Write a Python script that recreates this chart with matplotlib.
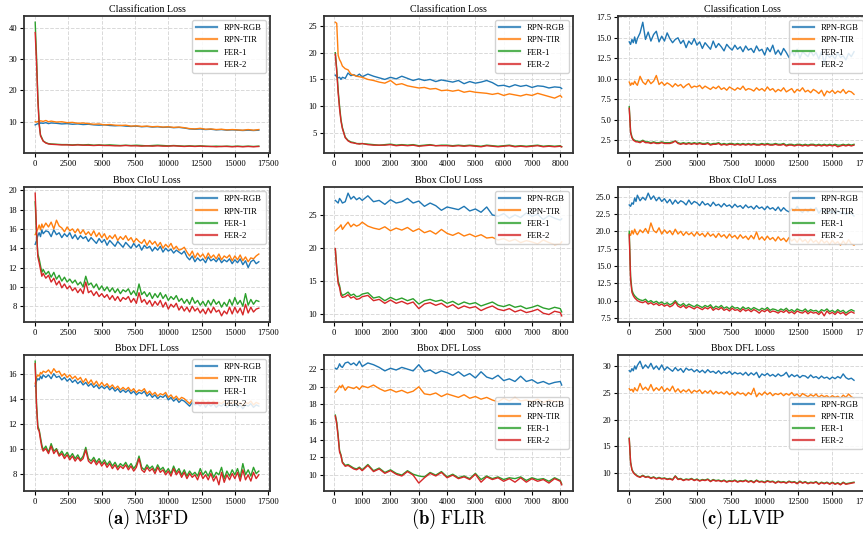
import matplotlib
matplotlib.use("Agg")
import matplotlib.pyplot as plt
from matplotlib.ticker import MultipleLocator

plt.rcParams['font.family'] = ['Liberation Serif', 'DejaVu Serif']
plt.rcParams['mathtext.fontset'] = 'cm'

series_names = ['RPN-RGB', 'RPN-TIR', 'FER-1', 'FER-2']
series_colors = ['tab:blue', 'tab:orange', 'tab:green', 'tab:red']
loss_titles = ['Classification Loss', 'Bbox CIoU Loss', 'Bbox DFL Loss']
dataset_labels = [r'$\mathbf{(a)}$ $\mathrm{M3FD}$', r'$\mathbf{(b)}$ $\mathrm{FLIR}$',
                  r'$\mathbf{(c)}$ $\mathrm{LLVIP}$']

# training steps (coarse and fine sampling)
m3fd_steps = [0, 100, 200, 300, 400, 600, 800, 1000] + list(range(1200, 16801, 400))
m3fd_steps_fine = [0, 100, 200, 300, 400, 500, 600, 800] + list(range(1000, 16801, 200))
flir_steps = [50, 100, 150, 200, 250, 300, 400, 500, 600, 700, 800, 900] + list(range(1000, 8001, 200)) + [8050]
llvip_steps = [0, 100, 200, 300, 400, 500, 600, 800] + list(range(1000, 16601, 200))

# ---- M3FD ----
m3fd_cls_rgb = [9.0, 9.2, 9.4, 9.3, 9.6, 9.5, 9.7, 9.4, 9.6, 9.5, 9.3, 9.4, 9.2, 9.3, 9.1, 9.2, 9.0, 8.9, 9.0, 8.8,
                8.7, 8.8, 8.6, 8.5, 8.6, 8.4, 8.5, 8.3, 8.4, 8.2, 8.3, 8.1, 8.2, 8.0, 7.7, 7.6, 7.7, 7.5, 7.6, 7.4,
                7.5, 7.3, 7.4, 7.3, 7.2, 7.3, 7.2, 7.3]
m3fd_cls_tir = [10.0, 9.9, 10.1, 10.0, 10.3, 10.1, 10.4, 10.0, 10.2, 9.9, 10.0, 9.7, 9.8, 9.5, 9.6, 9.4, 9.2, 9.3,
                9.0, 9.1, 8.9, 8.8, 8.9, 8.6, 8.7, 8.5, 8.6, 8.4, 8.5, 8.3, 8.4, 8.2, 8.3, 8.1, 7.8, 7.7, 7.9, 7.6,
                7.7, 7.5, 7.6, 7.4, 7.5, 7.4, 7.3, 7.5, 7.3, 7.5]
m3fd_cls_fer1 = [41.8, 31.0, 18.0, 9.5, 5.8, 3.9, 3.3, 3.0, 2.9, 2.8, 2.7, 2.7, 2.6, 2.7, 2.6, 2.7, 2.5, 2.6, 2.5,
                 2.6, 2.5, 2.4, 2.5, 2.4, 2.5, 2.4, 2.3, 2.4, 2.5, 2.4, 2.3, 2.4, 2.3, 2.2, 2.3, 2.2, 2.3, 2.2, 2.1,
                 2.2, 2.1, 2.2, 2.1, 2.2, 2.1, 2.2, 2.1, 2.2]
m3fd_cls_fer2 = [38.5, 29.0, 17.0, 9.0, 5.5, 3.8, 3.2, 2.9, 2.8, 2.7, 2.6, 2.6, 2.5, 2.6, 2.5, 2.5, 2.4, 2.5, 2.4,
                 2.4, 2.3, 2.3, 2.4, 2.3, 2.3, 2.2, 2.3, 2.2, 2.3, 2.2, 2.2, 2.3, 2.2, 2.1, 2.2, 2.1, 2.2, 2.1, 2.1,
                 2.0, 2.1, 2.1, 2.0, 2.1, 2.0, 2.1, 2.0, 2.1]

m3fd_ciou_rgb = [14.4, 14.8, 15.3, 15.6, 15.2, 15.9, 15.5, 15.8,
                 15.7, 15.2, 15.9, 15.4, 15.6, 15.1, 15.5, 15.2, 15.6, 15.0,
                 15.4, 14.9, 15.3, 15.0, 15.2, 14.7, 15.1, 14.8, 14.5, 15.0,
                 14.6, 14.9, 14.3, 14.8, 14.5, 14.2, 14.7, 14.4, 14.1, 14.6,
                 14.3, 14.0, 14.5, 14.1, 14.4, 13.8, 14.3, 14.0, 14.2, 13.7,
                 14.1, 13.8, 14.2, 13.6, 14.0, 13.7, 13.9, 13.5, 13.8, 13.6,
                 13.4, 13.7, 13.1, 12.8, 13.2, 12.6, 13.0, 12.7, 12.9, 12.5,
                 13.1, 12.7, 12.9, 12.6, 13.0, 12.5, 12.8, 12.6, 12.9, 12.4,
                 12.8, 12.5, 12.9, 12.3, 12.7, 12.0, 12.6, 12.8, 12.4, 12.6]
m3fd_ciou_tir = [15.4, 15.7, 16.0, 16.4, 15.9, 16.5, 16.1, 16.6,
                 16.2, 16.7, 16.0, 16.9, 16.3, 16.1, 15.7, 16.2, 15.8, 16.0,
                 15.6, 16.0, 15.5, 15.9, 15.4, 15.7, 15.3, 15.8, 15.2, 15.6,
                 15.1, 15.5, 14.9, 15.3, 15.0, 15.4, 14.8, 15.2, 14.9, 15.3,
                 14.8, 15.1, 14.6, 15.0, 14.7, 14.5, 14.9, 14.3, 14.8, 14.4,
                 14.7, 14.2, 14.6, 14.0, 14.4, 14.1, 14.5, 13.9, 14.2, 13.8,
                 13.9, 14.1, 13.6, 13.2, 13.7, 13.0, 13.5, 13.1, 13.4, 12.9,
                 13.5, 13.0, 13.3, 12.9, 13.4, 12.8, 13.2, 13.0, 13.3, 12.7,
                 13.2, 12.8, 13.3, 12.7, 13.1, 12.6, 13.0, 12.9, 13.2, 13.4]
m3fd_ciou_fer1 = [18.8, 15.5, 13.4, 12.9, 12.2, 11.5, 11.8, 11.3,
                  11.6, 11.0, 11.5, 10.8, 11.2, 10.6, 11.0, 10.5, 10.8, 10.4,
                  10.7, 10.2, 10.5, 10.0, 11.1, 10.2, 10.4, 9.9, 10.3, 9.7,
                  10.1, 9.6, 10.0, 9.5, 9.9, 9.4, 9.8, 9.3, 9.7, 9.5,
                  9.8, 9.2, 9.6, 9.1, 10.3, 9.2, 9.5, 9.0, 9.4, 8.8,
                  9.3, 8.9, 9.4, 8.8, 9.2, 8.6, 9.0, 8.7, 9.1, 8.5,
                  8.8, 8.3, 8.7, 8.2, 8.9, 8.3, 8.6, 8.1, 8.5, 8.0,
                  8.6, 8.1, 8.7, 8.2, 8.5, 7.9, 8.4, 8.0, 8.7, 8.1,
                  8.9, 8.2, 8.6, 8.0, 9.3, 8.1, 8.7, 8.2, 8.6, 8.5]
m3fd_ciou_fer2 = [19.7, 15.8, 13.1, 12.5, 11.8, 11.1, 11.4, 10.9,
                  11.2, 10.5, 10.9, 10.2, 10.6, 9.9, 10.3, 9.8, 10.1, 9.6,
                  9.9, 9.4, 9.8, 9.3, 10.5, 9.4, 9.6, 9.1, 9.5, 9.0,
                  9.3, 8.9, 9.2, 8.7, 9.1, 8.6, 9.0, 8.5, 8.9, 8.7,
                  9.0, 8.4, 8.8, 8.3, 9.4, 8.4, 8.7, 8.2, 8.6, 8.0,
                  8.5, 8.1, 8.6, 7.9, 8.4, 7.7, 8.2, 7.9, 8.3, 7.6,
                  8.0, 7.5, 7.9, 7.4, 8.0, 7.5, 7.8, 7.3, 7.7, 7.2,
                  7.8, 7.3, 7.9, 7.4, 7.6, 7.0, 7.5, 7.2, 7.9, 7.2,
                  7.9, 7.3, 7.8, 7.1, 8.2, 7.3, 7.9, 7.4, 7.7, 7.8]

m3fd_dfl_rgb = [15.0, 15.4, 15.6, 15.5, 15.8, 15.6, 15.9, 15.7,
                15.9, 15.6, 16.0, 15.7, 15.8, 15.5, 15.7, 15.4, 15.6, 15.3,
                15.5, 15.2, 15.4, 15.1, 15.3, 15.0, 15.2, 14.9, 15.1, 14.8,
                15.0, 14.8, 15.0, 14.7, 14.9, 14.6, 14.8, 14.5, 14.7, 14.5,
                14.7, 14.4, 14.6, 14.3, 14.5, 14.4, 14.6, 14.2, 14.4, 14.1,
                14.3, 14.0, 14.2, 14.1, 14.3, 13.9, 14.1, 13.8, 14.0, 13.7,
                13.9, 13.8, 13.6, 13.4, 13.7, 13.5, 13.6, 13.4, 13.7, 13.3,
                13.6, 13.4, 13.6, 13.3, 13.5, 13.4, 13.6, 13.3, 13.5, 13.4,
                13.6, 13.3, 13.5, 13.2, 13.5, 13.4, 13.6, 13.3, 13.5, 13.4]
m3fd_dfl_tir = [15.2, 15.7, 15.9, 15.8, 16.1, 16.0, 16.2, 16.1,
                16.3, 16.0, 16.4, 16.1, 16.2, 15.8, 16.0, 15.7, 15.9, 15.6,
                15.8, 15.5, 15.7, 15.3, 15.6, 15.2, 15.5, 15.1, 15.4, 15.0,
                15.3, 15.0, 15.2, 14.9, 15.1, 14.8, 15.0, 14.7, 14.9, 14.7,
                14.9, 14.6, 14.8, 14.5, 14.7, 14.6, 14.8, 14.4, 14.6, 14.3,
                14.5, 14.2, 14.4, 14.3, 14.5, 14.1, 14.3, 14.0, 14.2, 13.9,
                14.1, 14.0, 13.8, 13.6, 13.9, 13.7, 13.8, 13.6, 13.9, 13.5,
                13.8, 13.6, 13.8, 13.5, 13.7, 13.6, 13.8, 13.5, 13.7, 13.6,
                13.8, 13.5, 13.7, 13.4, 13.7, 13.6, 13.8, 13.5, 13.7, 13.6]
m3fd_dfl_fer1 = [17.0, 13.6, 11.8, 11.5, 10.9, 10.3, 9.9, 10.2,
                 9.7, 10.4, 9.8, 10.0, 9.5, 9.8, 9.4, 9.7, 9.3, 9.6,
                 9.2, 9.5, 9.1, 9.4, 10.1, 9.2, 9.0, 9.3, 8.9, 9.2,
                 8.8, 9.1, 8.7, 9.0, 8.6, 8.9, 8.5, 8.8, 8.6, 8.9,
                 8.5, 8.8, 8.4, 8.7, 9.4, 8.5, 8.3, 8.7, 8.4, 8.6,
                 8.2, 8.7, 8.3, 8.5, 8.1, 8.4, 8.0, 8.6, 8.1, 8.4,
                 7.9, 8.3, 7.8, 8.2, 7.9, 8.1, 7.8, 8.4, 7.9, 8.2,
                 7.8, 8.3, 7.7, 8.1, 7.9, 8.5, 7.6, 8.2, 7.8, 8.3,
                 7.9, 8.4, 7.7, 8.8, 7.9, 8.3, 7.8, 8.5, 8.0, 8.2]
m3fd_dfl_fer2 = [16.8, 13.4, 11.6, 11.4, 10.7, 10.1, 9.8, 10.0,
                 9.6, 10.2, 9.6, 9.9, 9.4, 9.6, 9.2, 9.5, 9.1, 9.4,
                 9.0, 9.3, 9.0, 9.2, 9.9, 9.0, 8.8, 9.1, 8.7, 9.0,
                 8.6, 8.9, 8.5, 8.8, 8.4, 8.7, 8.3, 8.6, 8.4, 8.7,
                 8.3, 8.6, 8.2, 8.5, 9.2, 8.3, 8.1, 8.5, 8.2, 8.4,
                 8.0, 8.5, 8.1, 8.3, 7.9, 8.2, 7.8, 8.4, 7.9, 8.2,
                 7.7, 8.1, 7.6, 8.0, 7.7, 7.9, 7.5, 8.1, 7.6, 7.9,
                 7.5, 8.0, 7.4, 7.8, 7.1, 8.1, 7.3, 7.9, 7.5, 8.0,
                 7.6, 8.1, 7.4, 8.3, 7.5, 7.9, 7.4, 8.1, 7.6, 7.9]

# ---- FLIR ----
flir_cls_rgb = [15.8, 15.5, 15.3, 15.4, 15.0, 15.4, 15.2, 16.2, 15.7, 15.9, 15.6, 16.0, 15.5, 16.0, 15.6, 15.3,
                15.0, 15.4, 15.1, 15.6, 15.2, 14.8, 15.1, 14.8, 15.0, 14.6, 14.9, 14.7, 14.5, 14.8, 14.2, 14.6,
                14.3, 14.5, 14.8, 14.4, 13.8, 13.9, 13.6, 14.0, 13.7, 13.9, 13.5, 13.8, 13.7, 13.4, 13.6, 13.5, 13.3]
flir_cls_tir = [25.7, 25.5, 19.5, 18.7, 18.2, 17.5, 17.0, 16.8, 16.0, 15.8, 15.6, 15.5, 15.4, 15.0, 14.8, 14.5,
                14.3, 14.8, 14.0, 14.2, 13.8, 13.6, 13.4, 13.5, 13.2, 13.3, 12.9, 13.0, 12.8, 13.0, 12.6, 12.8,
                12.6, 12.5, 12.4, 12.2, 12.4, 12.0, 12.3, 12.1, 11.9, 12.2, 12.0, 12.4, 12.1, 11.8, 11.5, 12.0, 11.7]
flir_cls_fer1 = [20.0, 17.0, 13.0, 10.0, 7.5, 6.0, 4.2, 3.6, 3.3, 3.2, 3.0, 3.0, 3.0, 2.9, 2.8, 2.7, 2.8, 2.9, 2.7,
                 2.8, 2.7, 2.8, 2.6, 2.7, 2.8, 2.6, 2.7, 2.7, 2.6, 2.7, 2.6, 2.7, 2.6, 2.5, 2.7, 2.6, 2.5, 2.6, 2.7,
                 2.5, 2.6, 2.5, 2.6, 2.7, 2.5, 2.6, 2.5, 2.6, 2.4]
flir_cls_fer2 = [19.7, 16.5, 12.5, 9.5, 7.2, 5.8, 4.1, 3.5, 3.2, 3.1, 3.0, 2.9, 3.0, 2.8, 2.7, 2.7, 2.7, 2.8, 2.6,
                 2.7, 2.6, 2.7, 2.5, 2.6, 2.7, 2.6, 2.6, 2.6, 2.5, 2.6, 2.5, 2.6, 2.5, 2.4, 2.6, 2.5, 2.4, 2.5, 2.6,
                 2.4, 2.5, 2.4, 2.5, 2.6, 2.4, 2.5, 2.4, 2.5, 2.4]

flir_ciou_rgb = [27.2, 27.0, 26.8, 27.5, 27.2, 26.8, 27.0, 28.3, 27.4, 27.8, 27.3, 27.6, 27.2, 27.9, 27.0, 27.2,
                 26.6, 27.3, 26.8, 27.0, 27.5, 26.8, 27.1, 26.3, 26.8, 26.4, 25.7, 26.2, 26.0, 25.8, 26.3, 25.6,
                 25.9, 25.4, 26.2, 25.0, 24.8, 25.2, 24.5, 25.0, 24.6, 25.3, 24.8, 25.1, 24.3, 24.9, 24.5, 24.2, 24.4]
flir_ciou_tir = [22.6, 22.8, 23.0, 23.2, 23.5, 22.8, 23.4, 23.9, 23.2, 23.6, 23.3, 23.5, 23.9, 23.3, 23.0, 22.8,
                 23.2, 22.6, 23.0, 22.7, 23.1, 22.5, 22.9, 22.3, 22.6, 22.1, 22.8, 22.2, 21.9, 22.3, 21.8, 22.1,
                 21.7, 22.0, 21.5, 21.6, 21.2, 21.4, 21.0, 21.3, 20.8, 21.1, 20.9, 20.6, 21.2, 20.8, 20.5, 20.6, 20.9]
flir_ciou_fer1 = [19.8, 17.0, 15.0, 14.3, 13.2, 12.8, 13.0, 13.3, 12.8, 13.0, 12.6, 12.7, 13.0, 13.2, 12.4, 12.6,
                  12.0, 12.5, 12.1, 12.4, 12.0, 12.3, 11.5, 12.0, 12.2, 11.9, 12.1, 11.6, 11.9, 11.4, 11.8, 11.5,
                  11.7, 11.2, 11.5, 11.8, 11.3, 11.1, 11.4, 11.0, 11.2, 10.8, 11.0, 11.3, 10.9, 10.7, 11.0, 10.8, 10.3]
flir_ciou_fer2 = [19.9, 16.8, 14.6, 14.0, 12.8, 12.5, 12.6, 12.9, 12.4, 12.6, 12.2, 12.3, 12.6, 12.8, 12.0, 12.2,
                  11.6, 12.1, 11.6, 11.9, 11.5, 11.8, 10.8, 11.5, 11.7, 11.3, 11.6, 11.0, 11.4, 10.8, 11.2, 10.9,
                  11.1, 10.5, 10.9, 11.2, 10.7, 10.5, 10.8, 10.3, 10.6, 10.2, 10.4, 10.7, 10.1, 9.9, 10.4, 10.2, 9.7]

flir_dfl_rgb = [22.1, 22.0, 22.2, 22.6, 22.3, 22.2, 22.7, 22.8, 22.5, 22.7, 22.4, 22.9, 22.3, 22.7, 22.5, 22.2,
                21.8, 22.1, 21.9, 22.2, 22.0, 21.8, 22.5, 21.7, 21.9, 21.5, 21.8, 21.6, 21.3, 21.7, 21.2, 21.5,
                21.0, 21.7, 21.1, 20.9, 21.3, 20.7, 20.9, 20.6, 21.2, 20.6, 20.8, 20.4, 20.6, 20.3, 20.5, 20.6, 20.2]
flir_dfl_tir = [19.4, 19.6, 19.8, 20.1, 19.9, 20.2, 19.6, 20.0, 19.9, 19.8, 20.0, 19.7, 20.1, 19.9, 20.2, 19.8,
                19.5, 19.7, 19.4, 19.6, 19.3, 19.5, 20.0, 19.2, 19.1, 19.3, 18.9, 19.2, 19.0, 18.8, 19.1, 18.7,
                18.9, 18.6, 18.8, 18.5, 18.3, 18.7, 18.4, 18.8, 18.4, 18.5, 18.3, 18.6, 18.2, 18.5, 18.3, 18.4, 18.2]
flir_dfl_fer1 = [16.8, 16.0, 14.5, 12.8, 12.3, 11.5, 11.1, 11.2, 11.0, 10.8, 10.7, 10.9, 10.6, 11.2, 10.5, 10.8,
                 10.3, 10.6, 10.2, 10.0, 10.5, 10.1, 9.9, 9.8, 10.3, 10.0, 10.4, 9.8, 10.1, 9.7, 9.9, 9.6, 10.2,
                 9.5, 9.9, 9.6, 9.8, 9.5, 9.7, 9.6, 9.8, 9.4, 9.7, 9.5, 9.6, 9.3, 9.7, 9.4, 9.0]
flir_dfl_fer2 = [16.7, 15.8, 14.3, 12.6, 12.2, 11.4, 11.0, 11.1, 10.9, 10.7, 10.6, 10.8, 10.5, 11.1, 10.4, 10.7,
                 10.2, 10.5, 10.1, 9.9, 10.4, 10.0, 9.1, 9.7, 10.2, 9.9, 10.3, 9.7, 10.0, 9.6, 9.8, 9.5, 10.1,
                 9.2, 9.8, 9.5, 9.7, 9.3, 9.6, 9.2, 9.7, 9.2, 9.6, 9.3, 9.5, 9.1, 9.6, 9.3, 8.9]

# ---- LLVIP ----
llvip_cls_rgb = [14.5, 14.2, 14.8, 14.4, 15.1, 14.3, 14.9, 15.6,
                 16.9, 14.8, 15.7, 14.6, 15.4, 15.8, 14.5, 15.2, 14.6, 15.6,
                 14.9, 14.4, 14.8, 15.0, 14.3, 14.7, 13.8, 14.6, 14.2, 14.9,
                 14.1, 14.5, 13.7, 14.4, 14.0, 13.6, 14.6, 13.8, 14.3, 13.9,
                 13.4, 14.2, 13.8, 13.5, 14.1, 13.6, 13.9, 13.3, 14.0, 13.5,
                 13.7, 13.2, 14.0, 13.4, 13.6, 12.9, 13.8, 13.3, 14.1, 13.0,
                 13.5, 12.9, 13.7, 13.2, 12.6, 13.4, 12.8, 13.6, 12.5, 13.3,
                 13.0, 12.7, 13.4, 12.8, 13.2, 12.4, 13.3, 11.9, 13.0, 12.6,
                 12.9, 12.4, 13.2, 12.6, 12.8, 12.3, 13.1, 12.7, 13.3]
llvip_cls_tir = [9.6, 9.2, 9.5, 9.3, 9.7, 9.4, 9.2, 10.3,
                 9.6, 9.3, 9.9, 9.4, 9.7, 10.4, 9.3, 9.6, 9.2, 9.5,
                 9.3, 9.0, 9.4, 9.1, 9.3, 8.9, 9.2, 9.4, 8.9, 9.1,
                 9.0, 9.2, 8.8, 9.1, 8.9, 8.7, 9.0, 8.8, 9.1, 8.7,
                 8.9, 8.6, 9.0, 8.8, 8.6, 8.9, 8.7, 9.1, 8.6, 8.8,
                 8.7, 8.5, 8.9, 8.6, 8.8, 8.5, 9.0, 8.6, 8.8, 8.4,
                 8.7, 8.5, 8.9, 8.4, 8.6, 8.8, 8.3, 8.7, 8.5, 8.9,
                 8.4, 8.6, 8.3, 8.7, 8.5, 8.2, 8.6, 7.9, 8.5, 8.3,
                 8.6, 8.2, 8.5, 8.3, 8.7, 8.2, 8.5, 8.4, 8.1]
llvip_cls_fer1 = [6.6, 3.6, 2.9, 2.6, 2.5, 2.4, 2.4, 2.3,
                  2.5, 2.3, 2.3, 2.2, 2.3, 2.2, 2.2, 2.3, 2.2, 2.2,
                  2.2, 2.3, 2.4, 2.2, 2.1, 2.2, 2.1, 2.2, 2.1, 2.2,
                  2.1, 2.2, 2.1, 2.1, 2.2, 2.0, 2.1, 2.1, 2.2, 2.0,
                  2.1, 2.0, 2.1, 2.1, 2.0, 2.1, 2.0, 2.1, 2.0, 2.1,
                  2.0, 2.1, 2.0, 2.0, 2.1, 2.0, 2.1, 2.0, 2.0, 2.1,
                  2.0, 2.0, 2.1, 1.9, 2.0, 2.0, 1.9, 2.0, 2.0, 1.9,
                  2.0, 1.9, 2.0, 2.0, 1.9, 2.0, 1.9, 2.0, 1.9, 2.0,
                  1.9, 2.0, 1.9, 1.9, 2.0, 1.9, 2.0, 1.9, 2.0]
llvip_cls_fer2 = [6.4, 3.4, 2.8, 2.5, 2.4, 2.3, 2.3, 2.2,
                  2.4, 2.2, 2.2, 2.1, 2.2, 2.1, 2.1, 2.2, 2.1, 2.1,
                  2.1, 2.2, 2.4, 2.1, 2.0, 2.1, 2.0, 2.1, 2.0, 2.1,
                  2.0, 2.1, 2.0, 2.0, 2.1, 1.9, 2.0, 2.0, 2.1, 1.9,
                  2.0, 1.9, 2.0, 2.0, 1.9, 2.0, 1.9, 2.0, 1.9, 2.0,
                  1.9, 2.0, 1.9, 1.9, 2.0, 1.9, 2.0, 1.9, 1.9, 2.0,
                  1.9, 1.9, 2.0, 1.8, 1.9, 1.9, 1.8, 1.9, 1.9, 1.8,
                  1.9, 1.8, 1.9, 1.9, 1.8, 1.9, 1.8, 1.9, 1.8, 1.9,
                  1.8, 1.9, 1.7, 1.8, 1.9, 1.8, 1.9, 1.8, 1.9]

llvip_ciou_rgb = [23.8, 23.6, 24.1, 23.9, 24.8, 24.3, 25.2, 24.4,
                  24.9, 24.5, 25.5, 24.6, 25.1, 24.4, 24.9, 24.3, 24.7, 24.1,
                  24.6, 23.9, 24.5, 24.0, 24.4, 24.2, 23.8, 24.5, 23.9, 24.3,
                  24.1, 23.7, 24.3, 23.8, 24.0, 23.6, 24.2, 23.7, 23.9, 23.5,
                  24.0, 23.6, 23.8, 23.4, 23.9, 23.5, 23.7, 23.3, 23.8, 23.4,
                  23.6, 23.2, 23.7, 23.3, 23.5, 23.1, 23.6, 23.2, 23.4, 23.0,
                  23.5, 22.9, 23.4, 23.0, 22.8, 23.3, 22.9, 23.6, 23.0, 22.7,
                  23.2, 22.8, 23.3, 22.9, 23.4, 22.6, 23.1, 22.8, 23.0, 22.6,
                  22.9, 22.5, 23.0, 22.6, 22.8, 22.4, 22.7, 22.6, 22.2]
llvip_ciou_tir = [19.7, 19.4, 20.1, 19.6, 20.3, 19.8, 19.5, 20.2,
                  19.8, 20.4, 19.7, 21.2, 20.1, 19.8, 20.5, 19.6, 20.2, 19.7,
                  20.1, 19.5, 20.3, 19.6, 20.0, 19.4, 19.9, 19.5, 19.8, 19.3,
                  19.9, 19.4, 19.7, 19.2, 19.8, 19.3, 19.6, 19.1, 19.7, 19.2,
                  19.5, 19.0, 19.6, 19.1, 19.4, 18.9, 19.5, 19.0, 19.3, 18.8,
                  19.4, 18.9, 19.9, 18.8, 19.2, 18.7, 19.3, 18.8, 19.1, 18.6,
                  19.2, 18.7, 19.0, 18.5, 19.1, 18.6, 18.9, 18.4, 19.0, 18.5,
                  18.8, 18.3, 18.9, 18.4, 18.7, 18.2, 18.8, 18.3, 18.6, 18.1,
                  18.7, 18.2, 18.5, 18.0, 18.6, 18.1, 18.8, 18.2, 18.0]
llvip_ciou_fer1 = [20.0, 13.5, 11.5, 11.0, 10.7, 10.5, 10.3, 10.1,
                   10.0, 10.2, 9.8, 10.0, 9.7, 9.9, 9.6, 9.8, 9.5, 9.7,
                   9.4, 9.6, 10.0, 9.5, 9.3, 9.6, 9.2, 9.5, 9.3, 9.1,
                   9.4, 9.2, 9.0, 9.3, 9.1, 9.4, 8.9, 9.2, 9.0, 9.3,
                   8.9, 9.1, 8.8, 9.2, 8.9, 9.0, 8.7, 9.1, 8.8, 9.0,
                   8.7, 9.0, 8.8, 8.6, 8.9, 8.7, 9.0, 8.6, 8.8, 8.7,
                   8.5, 8.8, 8.6, 8.9, 8.5, 8.7, 8.4, 8.8, 8.6, 8.5,
                   8.8, 8.4, 8.7, 8.5, 8.6, 8.3, 8.7, 8.5, 8.8, 8.4,
                   8.6, 8.3, 8.7, 8.4, 8.6, 8.2, 8.5, 8.7, 8.5]
llvip_ciou_fer2 = [19.5, 13.0, 11.2, 10.7, 10.4, 10.2, 10.0, 9.8,
                   9.7, 9.9, 9.5, 9.7, 9.4, 9.6, 9.3, 9.5, 9.2, 9.4,
                   9.1, 9.3, 9.8, 9.2, 9.0, 9.3, 8.9, 9.2, 9.0, 8.8,
                   9.1, 8.9, 8.7, 9.0, 8.8, 9.1, 8.6, 8.9, 8.7, 9.0,
                   8.6, 8.8, 8.5, 8.9, 8.6, 8.7, 8.4, 8.8, 8.5, 8.7,
                   8.4, 8.7, 8.5, 8.2, 8.6, 8.4, 8.7, 8.3, 8.5, 8.4,
                   8.2, 8.5, 8.3, 8.6, 8.2, 8.4, 8.1, 8.5, 8.3, 8.2,
                   8.5, 8.1, 8.4, 8.2, 8.3, 8.0, 8.4, 7.8, 8.5, 8.1,
                   8.3, 8.0, 8.4, 8.1, 8.3, 7.9, 8.2, 8.4, 8.2]

llvip_dfl_rgb = [29.2, 29.0, 29.6, 29.2, 30.1, 29.5, 30.2, 31.0,
                 29.6, 30.3, 29.7, 30.6, 29.5, 30.1, 29.4, 30.3, 29.3, 29.9,
                 29.5, 29.1, 29.8, 29.2, 29.6, 28.9, 29.7, 29.3, 29.5, 29.0,
                 29.4, 28.9, 29.3, 28.8, 29.4, 28.9, 29.1, 28.7, 29.2, 28.6,
                 29.0, 28.7, 29.1, 28.5, 28.9, 28.6, 28.8, 28.4, 28.9, 28.3,
                 28.8, 28.4, 28.9, 27.9, 28.6, 28.3, 28.7, 28.2, 28.5, 28.1,
                 28.6, 28.2, 28.4, 28.9, 28.0, 28.5, 28.1, 28.4, 27.9, 28.3,
                 28.2, 27.8, 28.4, 27.9, 28.1, 27.7, 28.2, 27.8, 28.0, 27.6,
                 28.0, 27.7, 28.1, 27.8, 28.6, 27.9, 27.6, 27.8, 27.4]
llvip_dfl_tir = [25.8, 25.5, 25.7, 25.2, 26.0, 25.6, 25.4, 26.8,
                 25.6, 26.1, 25.5, 26.6, 25.4, 26.0, 25.5, 26.2, 25.3, 25.9,
                 25.4, 26.3, 25.2, 25.8, 25.1, 25.6, 25.2, 25.7, 25.0, 25.5,
                 25.2, 25.6, 24.9, 25.4, 25.0, 25.5, 24.8, 25.3, 24.9, 25.2,
                 24.8, 25.3, 24.7, 25.1, 24.6, 25.2, 24.8, 25.0, 24.5, 25.1,
                 24.7, 25.9, 24.3, 25.0, 24.6, 25.2, 24.7, 25.1, 24.5, 24.9,
                 24.7, 25.0, 24.5, 24.9, 24.6, 25.1, 24.5, 24.8, 24.3, 24.9,
                 24.6, 24.3, 24.7, 24.4, 24.8, 24.2, 24.6, 24.3, 24.5, 24.1,
                 24.5, 24.2, 24.4, 24.0, 24.6, 24.2, 24.8, 24.3, 24.0]
llvip_dfl_fer1 = [16.5, 12.0, 10.6, 10.1, 9.8, 9.6, 9.4, 9.2,
                  9.5, 9.2, 9.3, 9.0, 9.2, 8.9, 9.1, 8.9, 9.0, 8.8,
                  8.9, 8.7, 9.4, 8.8, 8.9, 8.6, 8.8, 8.7, 8.9, 8.6,
                  8.8, 8.5, 8.7, 8.6, 8.8, 8.4, 8.7, 8.5, 8.6, 8.4,
                  8.6, 8.3, 8.5, 8.4, 8.6, 8.3, 8.5, 8.4, 8.6, 8.3,
                  8.5, 8.2, 8.6, 8.3, 8.4, 8.2, 8.5, 8.3, 8.4, 8.1,
                  8.4, 8.2, 8.3, 8.1, 8.4, 8.2, 8.3, 8.0, 8.4, 8.1,
                  8.3, 8.0, 8.2, 8.1, 8.3, 7.9, 8.2, 8.0, 8.2, 7.9,
                  8.2, 7.9, 8.1, 7.8, 8.2, 7.9, 8.0, 8.1, 8.2]
llvip_dfl_fer2 = [16.4, 11.9, 10.5, 10.0, 9.7, 9.5, 9.3, 9.1,
                  9.4, 9.1, 9.2, 8.9, 9.1, 8.8, 9.0, 8.8, 8.9, 8.7,
                  8.8, 8.6, 9.3, 8.7, 8.8, 8.5, 8.7, 8.6, 8.8, 8.5,
                  8.7, 8.4, 8.6, 8.5, 8.7, 8.3, 8.6, 8.4, 8.5, 8.3,
                  8.5, 8.2, 8.4, 8.3, 8.5, 8.2, 8.4, 8.3, 8.5, 8.2,
                  8.4, 8.1, 8.5, 8.2, 8.3, 8.1, 8.4, 8.2, 8.3, 8.0,
                  8.3, 8.1, 8.2, 8.0, 8.3, 8.1, 8.2, 7.9, 8.3, 8.0,
                  8.2, 7.9, 8.1, 8.0, 8.2, 7.8, 8.1, 7.9, 8.1, 7.8,
                  8.1, 7.8, 8.0, 7.7, 8.1, 7.8, 7.9, 8.0, 8.1]

# [column][row] -> (steps, series list)
columns = [
    [(m3fd_steps, [m3fd_cls_rgb, m3fd_cls_tir, m3fd_cls_fer1, m3fd_cls_fer2]),
     (m3fd_steps_fine, [m3fd_ciou_rgb, m3fd_ciou_tir, m3fd_ciou_fer1, m3fd_ciou_fer2]),
     (m3fd_steps_fine, [m3fd_dfl_rgb, m3fd_dfl_tir, m3fd_dfl_fer1, m3fd_dfl_fer2])],
    [(flir_steps, [flir_cls_rgb, flir_cls_tir, flir_cls_fer1, flir_cls_fer2]),
     (flir_steps, [flir_ciou_rgb, flir_ciou_tir, flir_ciou_fer1, flir_ciou_fer2]),
     (flir_steps, [flir_dfl_rgb, flir_dfl_tir, flir_dfl_fer1, flir_dfl_fer2])],
    [(llvip_steps, [llvip_cls_rgb, llvip_cls_tir, llvip_cls_fer1, llvip_cls_fer2]),
     (llvip_steps, [llvip_ciou_rgb, llvip_ciou_tir, llvip_ciou_fer1, llvip_ciou_fer2]),
     (llvip_steps, [llvip_dfl_rgb, llvip_dfl_tir, llvip_dfl_fer1, llvip_dfl_fer2])],
]

W, H = 863, 534
fig = plt.figure(figsize=(W / 100, H / 100), dpi=100)

col_px = [(24, 270), (324, 573), (618, 867)]
row_px = [(16, 153), (187, 322), (355, 491)]
x_lims = [(-840, 17640), (-350, 8450), (-830, 17560)]
x_steps = [2500, 1000, 2500]
y_steps = [[10, 2, 2], [5, 5, 2], [2.5, 2.5, 5]]   # [column][row]
legend_locs = [['upper right', 'upper right', 'upper right'],
               ['upper right', 'upper right', 'center right'],
               ['upper right', 'upper right', 'center right']]

for c, panels in enumerate(columns):
    x0, x1 = col_px[c]
    for r, (steps, series) in enumerate(panels):
        y0, y1 = row_px[r]
        ax = fig.add_axes([x0 / W, 1 - y1 / H, (x1 - x0) / W, (y1 - y0) / H])
        for vals, name, color in zip(series, series_names, series_colors):
            ax.plot(steps, vals, color=color, lw=1.0, label=name)
        ax.set_xlim(*x_lims[c])
        ax.xaxis.set_major_locator(MultipleLocator(x_steps[c]))
        ax.yaxis.set_major_locator(MultipleLocator(y_steps[c][r]))
        if y_steps[c][r] == 2.5:
            ax.yaxis.set_major_formatter('{x:.1f}')
        else:
            ax.yaxis.set_major_formatter('{x:.0f}')
        ax.set_title(loss_titles[r], fontsize=7.2, pad=3)
        ax.grid(True, linestyle='--', color='0.85', linewidth=0.7)
        ax.tick_params(labelsize=6.2, length=3, width=0.8, pad=2)
        for s in ax.spines.values():
            s.set_linewidth(1.3)
            s.set_color('0.2')
        leg = ax.legend(loc=legend_locs[c][r], fontsize=6.3, borderpad=0.45,
                        labelspacing=0.45, handlelength=2.4, framealpha=0.85)
        for line in leg.get_lines():
            line.set_linewidth(1.6)
            line.set_alpha(0.8)
    fig.text((x0 + x1) / 2 / W, 1 - 519 / H, dataset_labels[c], ha='center', va='center', fontsize=13.5)

fig.savefig('out.png', dpi=100)
